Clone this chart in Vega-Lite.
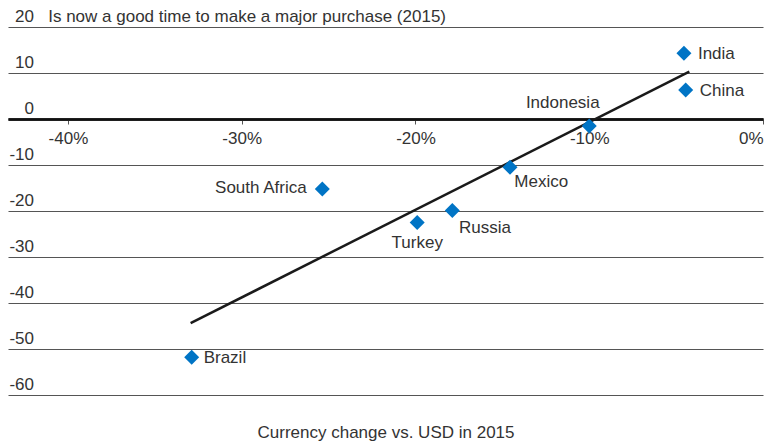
{
  "$schema": "https://vega.github.io/schema/vega-lite/v6.json",
  "width": 755,
  "height": 368,
  "autosize": "none",
  "padding": {"left": 8, "top": 27, "right": 13, "bottom": 48},
  "background": "white",
  "config": {
    "view": {"stroke": null},
    "font": "Liberation Sans",
    "text": {"font": "Liberation Sans", "fontSize": 17, "color": "#333333"}
  },
  "datasets": {
    "countries": [
      {"Country": "India", "Currency": -4.55, "Purchase": 14.3},
      {"Country": "China", "Currency": -4.45, "Purchase": 6.3},
      {"Country": "Indonesia", "Currency": -10.0, "Purchase": -1.5},
      {"Country": "Mexico", "Currency": -14.56, "Purchase": -10.5},
      {"Country": "Russia", "Currency": -17.88, "Purchase": -19.9},
      {"Country": "Turkey", "Currency": -19.9, "Purchase": -22.5},
      {"Country": "South Africa", "Currency": -25.36, "Purchase": -15.2},
      {"Country": "Brazil", "Currency": -32.88, "Purchase": -51.8}
    ],
    "trend": [
      {"Currency": -32.94, "Purchase": -44.4},
      {"Currency": -4.24, "Purchase": 10.3}
    ]
  },
  "encoding": {
    "x": {
      "field": "Currency",
      "type": "quantitative",
      "scale": {"domain": [-43.45, 0], "nice": false, "zero": false},
      "axis": {
        "orient": "bottom",
        "offset": -276,
        "values": [-40, -30, -20, -10, 0],
        "labelExpr": "datum.value + '%'",
        "labelFlush": true,
        "grid": false,
        "domain": true,
        "domainColor": "#111111",
        "domainWidth": 2.5,
        "ticks": true,
        "tickSize": 5,
        "tickColor": "#555555",
        "tickWidth": 1,
        "labelPadding": 6,
        "labelFont": "Liberation Sans",
        "labelFontSize": 17,
        "labelColor": "#333333",
        "title": "Currency change vs. USD in 2015",
        "titleFont": "Liberation Sans",
        "titleFontSize": 17,
        "titleFontWeight": "normal",
        "titleColor": "#333333",
        "titleAlign": "center",
        "titleBaseline": "alphabetic",
        "titleX": 377.5,
        "titleY": 318
      }
    },
    "y": {
      "field": "Purchase",
      "type": "quantitative",
      "scale": {"domain": [-60, 20], "nice": false, "zero": false},
      "axis": {
        "orient": "left",
        "values": [-60, -50, -40, -30, -20, -10, 0, 10, 20],
        "labelExpr": "datum.value + ''",
        "grid": true,
        "gridColor": {"condition": {"test": "datum.value === 0", "value": "#111111"}, "value": "#555555"},
        "gridWidth": {"condition": {"test": "datum.value === 0", "value": 2.5}, "value": 1},
        "domain": false,
        "ticks": false,
        "tickSize": 0,
        "labelAlign": "right",
        "labelBaseline": "alphabetic",
        "labelOffset": -5.5,
        "labelPadding": -25.5,
        "labelFont": "Liberation Sans",
        "labelFontSize": 17,
        "labelColor": "#333333",
        "title": "Is now a good time to make a major purchase (2015)",
        "titleFont": "Liberation Sans",
        "titleFontSize": 17,
        "titleFontWeight": "normal",
        "titleColor": "#333333",
        "titleAngle": 0,
        "titleAlign": "left",
        "titleBaseline": "alphabetic",
        "titleX": 39.7,
        "titleY": -5.3
      }
    }
  },
  "layer": [
    {
      "data": {"name": "trend"},
      "mark": {"type": "line", "color": "#1a1a1a", "strokeWidth": 2.5}
    },
    {
      "data": {"name": "countries"},
      "mark": {"type": "point", "shape": "diamond", "filled": true, "size": 225, "color": "#0074c5", "opacity": 1}
    },
    {
      "data": {"name": "countries"},
      "transform": [{"filter": "datum.Country === 'India' || datum.Country === 'China'"}],
      "mark": {"type": "text", "align": "left", "baseline": "middle", "dx": 14, "dy": 1},
      "encoding": {"text": {"field": "Country"}}
    },
    {
      "data": {"name": "countries"},
      "transform": [{"filter": "datum.Country === 'Brazil'"}],
      "mark": {"type": "text", "align": "left", "baseline": "middle", "dx": 12, "dy": 1},
      "encoding": {"text": {"field": "Country"}}
    },
    {
      "data": {"name": "countries"},
      "transform": [{"filter": "datum.Country === 'Indonesia'"}],
      "mark": {"type": "text", "align": "center", "baseline": "middle", "dx": -26.5, "dy": -23},
      "encoding": {"text": {"field": "Country"}}
    },
    {
      "data": {"name": "countries"},
      "transform": [{"filter": "datum.Country === 'Mexico'"}],
      "mark": {"type": "text", "align": "left", "baseline": "middle", "dx": 4.3, "dy": 15},
      "encoding": {"text": {"field": "Country"}}
    },
    {
      "data": {"name": "countries"},
      "transform": [{"filter": "datum.Country === 'Russia'"}],
      "mark": {"type": "text", "align": "left", "baseline": "middle", "dx": 6.7, "dy": 17},
      "encoding": {"text": {"field": "Country"}}
    },
    {
      "data": {"name": "countries"},
      "transform": [{"filter": "datum.Country === 'Turkey'"}],
      "mark": {"type": "text", "align": "center", "baseline": "middle", "dx": 0, "dy": 20},
      "encoding": {"text": {"field": "Country"}}
    },
    {
      "data": {"name": "countries"},
      "transform": [{"filter": "datum.Country === 'South Africa'"}],
      "mark": {"type": "text", "align": "right", "baseline": "middle", "dx": -15.6, "dy": -1},
      "encoding": {"text": {"field": "Country"}}
    }
  ]
}
